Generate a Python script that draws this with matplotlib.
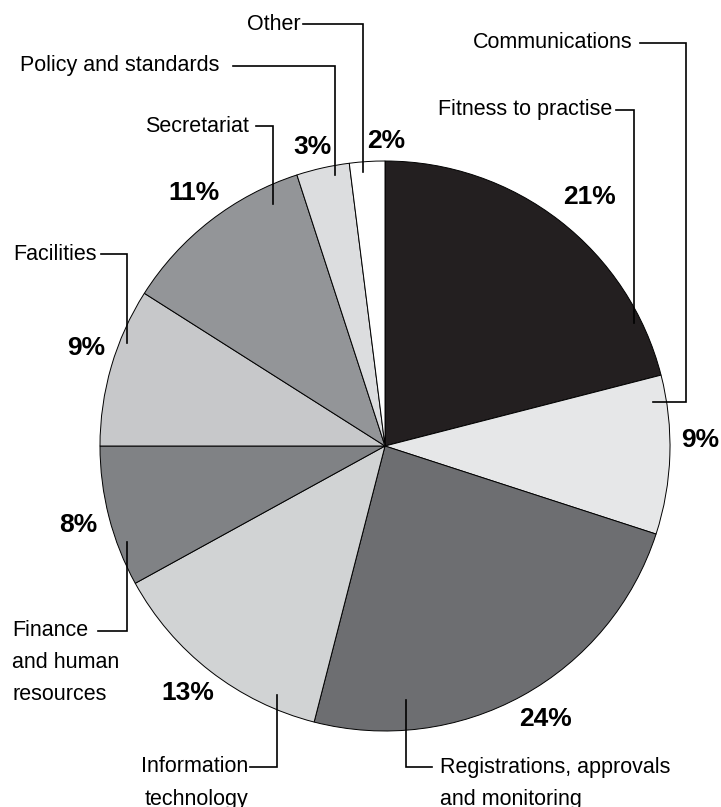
import matplotlib
matplotlib.use("Agg")
import matplotlib.pyplot as plt

plt.rcParams['font.family'] = ['Liberation Sans', 'DejaVu Sans']

# slices, clockwise from 12 o'clock
labels = ["Fitness to practise", "Communications", "Registrations, approvals and monitoring",
          "Information technology", "Finance and human resources", "Facilities",
          "Secretariat", "Policy and standards", "Other"]
shares = [21, 9, 24, 13, 8, 9, 11, 3, 2]
colors = ["#231f20", "#e6e7e8", "#6d6e71", "#d1d3d4", "#808285",
          "#c7c8ca", "#939598", "#dcdddf", "#ffffff"]

W, H = 721, 807
fig = plt.figure(figsize=(W / 100, H / 100), dpi=100)
ax = fig.add_axes([0, 0, 1, 1])
ax.axis('off')

# y axis is flipped, so counterclock in data = clockwise on screen
ax.pie(shares, colors=colors, center=(385, 446), radius=285,
       startangle=270, counterclock=True,
       wedgeprops=dict(edgecolor='black', linewidth=0.7))
ax.set_xlim(0, W)
ax.set_ylim(H, 0)
ax.set_aspect('equal')

# percent labels (pixel positions)
pct_pos = [(589, 197), (700, 440), (545, 719), (188, 693), (78, 525),
           (86, 348), (194, 193), (312, 147), (386, 141)]
for v, (x, y) in zip(shares, pct_pos):
    ax.text(x, y, f"{v}%", ha='center', va='center', fontsize=19, fontweight='bold')

lw = 1.2
fs = 15.5

def leader(pts):
    xs = [p[0] for p in pts]
    ys = [p[1] for p in pts]
    ax.plot(xs, ys, color='black', linewidth=lw, solid_joinstyle='miter')

# Other
ax.text(301, 24, "Other", ha='right', va='center', fontsize=fs)
leader([(303, 24), (363, 24), (363, 172)])
# Policy and standards
ax.text(219, 66, "Policy and standards", ha='right', va='center', fontsize=fs)
leader([(233, 66), (335, 66), (335, 175)])
# Secretariat
ax.text(249, 126, "Secretariat", ha='right', va='center', fontsize=fs)
leader([(256, 126), (273, 126), (273, 204)])
# Communications
ax.text(633, 43, "Communications", ha='right', va='center', fontsize=fs)
leader([(640, 43), (686, 43), (686, 402), (653, 402)])
# Fitness to practise
ax.text(612, 110, "Fitness to practise", ha='right', va='center', fontsize=fs)
leader([(616, 110), (634, 110), (634, 323)])
# Facilities
ax.text(97, 254, "Facilities", ha='right', va='center', fontsize=fs)
leader([(101, 254), (127, 254), (127, 343)])
# Finance and human resources
for txt, y in [("Finance", 631), ("and human", 663), ("resources", 695)]:
    ax.text(12, y, txt, ha='left', va='center', fontsize=fs)
leader([(98, 631), (127, 631), (127, 542)])
# Information technology
ax.text(248, 767, "Information", ha='right', va='center', fontsize=fs)
ax.text(248, 800, "technology", ha='right', va='center', fontsize=fs)
leader([(250, 767), (277, 767), (277, 695)])
# Registrations, approvals and monitoring
ax.text(440, 767, "Registrations, approvals", ha='left', va='center', fontsize=fs)
ax.text(440, 800, "and monitoring", ha='left', va='center', fontsize=fs)
leader([(406, 700), (406, 767), (432, 767)])

fig.savefig("out.png", dpi=100, facecolor='white')
